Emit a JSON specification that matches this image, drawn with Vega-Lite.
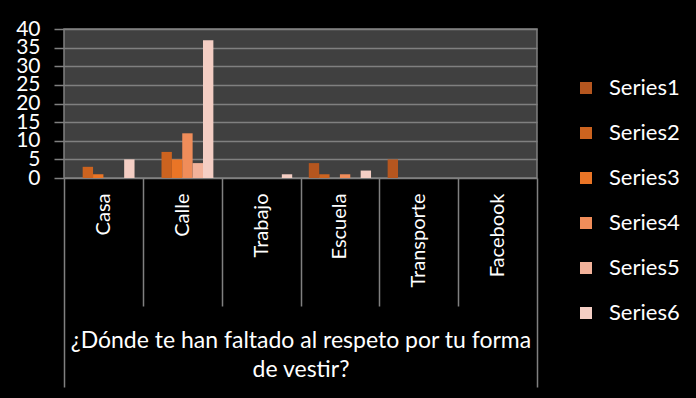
{
  "$schema": "https://vega.github.io/schema/vega-lite/v6.json",
  "background": "#000000",
  "autosize": "none",
  "width": 473,
  "height": 149,
  "padding": {"left": 64, "top": 29, "right": 159, "bottom": 220},
  "config": {"view": {"fill": "#404040", "stroke": "#808080", "strokeWidth": 1.5}},
  "data": {
    "values": [
      {"lugar": "Casa", "serie": "Series1", "valor": 0},
      {"lugar": "Casa", "serie": "Series2", "valor": 3},
      {"lugar": "Casa", "serie": "Series3", "valor": 1},
      {"lugar": "Casa", "serie": "Series4", "valor": 0},
      {"lugar": "Casa", "serie": "Series5", "valor": 0},
      {"lugar": "Casa", "serie": "Series6", "valor": 5},
      {"lugar": "Calle", "serie": "Series1", "valor": 0},
      {"lugar": "Calle", "serie": "Series2", "valor": 7},
      {"lugar": "Calle", "serie": "Series3", "valor": 5},
      {"lugar": "Calle", "serie": "Series4", "valor": 12},
      {"lugar": "Calle", "serie": "Series5", "valor": 4},
      {"lugar": "Calle", "serie": "Series6", "valor": 37},
      {"lugar": "Trabajo", "serie": "Series1", "valor": 0},
      {"lugar": "Trabajo", "serie": "Series2", "valor": 0},
      {"lugar": "Trabajo", "serie": "Series3", "valor": 0},
      {"lugar": "Trabajo", "serie": "Series4", "valor": 0},
      {"lugar": "Trabajo", "serie": "Series5", "valor": 0},
      {"lugar": "Trabajo", "serie": "Series6", "valor": 1},
      {"lugar": "Escuela", "serie": "Series1", "valor": 4},
      {"lugar": "Escuela", "serie": "Series2", "valor": 1},
      {"lugar": "Escuela", "serie": "Series3", "valor": 0},
      {"lugar": "Escuela", "serie": "Series4", "valor": 1},
      {"lugar": "Escuela", "serie": "Series5", "valor": 0},
      {"lugar": "Escuela", "serie": "Series6", "valor": 2},
      {"lugar": "Transporte", "serie": "Series1", "valor": 5},
      {"lugar": "Transporte", "serie": "Series2", "valor": 0},
      {"lugar": "Transporte", "serie": "Series3", "valor": 0},
      {"lugar": "Transporte", "serie": "Series4", "valor": 0},
      {"lugar": "Transporte", "serie": "Series5", "valor": 0},
      {"lugar": "Transporte", "serie": "Series6", "valor": 0},
      {"lugar": "Facebook", "serie": "Series1", "valor": 0},
      {"lugar": "Facebook", "serie": "Series2", "valor": 0},
      {"lugar": "Facebook", "serie": "Series3", "valor": 0},
      {"lugar": "Facebook", "serie": "Series4", "valor": 0},
      {"lugar": "Facebook", "serie": "Series5", "valor": 0},
      {"lugar": "Facebook", "serie": "Series6", "valor": 0}
    ]
  },
  "mark": {"type": "bar"},
  "encoding": {
    "x": {
      "field": "lugar",
      "type": "nominal",
      "sort": ["Casa", "Calle", "Trabajo", "Escuela", "Transporte", "Facebook"],
      "scale": {"paddingInner": 0, "paddingOuter": 0},
      "axis": {
        "title": ["¿Dónde te han faltado al respeto por tu forma", "de vestir?"],
        "tickBand": "extent",
        "tickSize": {"condition": {"test": "datum.value === 'Facebook' || datum.index < 0", "value": 209}, "value": 128},
        "tickColor": "#808080",
        "tickWidth": 1.5,
        "domain": false,
        "grid": false,
        "labelAngle": -90,
        "labelAlign": "right",
        "labelBaseline": "middle",
        "labelPadding": {"condition": {"test": "datum.value === 'Facebook'", "value": -194}, "value": -113},
        "labelFont": "Lato",
        "labelFontSize": 20,
        "labelColor": "#ffffff",
        "titleFont": "Lato",
        "titleFontSize": 23,
        "titleFontWeight": "normal",
        "titleColor": "#ffffff",
        "titleY": 151,
        "titleBaseline": "top",
        "titleLineHeight": 29
      }
    },
    "xOffset": {
      "field": "serie",
      "type": "nominal",
      "scale": {"paddingInner": 0, "paddingOuter": 0.8}
    },
    "y": {
      "field": "valor",
      "type": "quantitative",
      "scale": {"domain": [0, 40], "nice": false},
      "axis": {
        "title": null,
        "values": [0, 5, 10, 15, 20, 25, 30, 35, 40],
        "grid": true,
        "gridColor": "#808080",
        "gridWidth": 1.5,
        "domain": false,
        "tickSize": 10,
        "tickColor": "#808080",
        "tickWidth": 1.5,
        "labelFont": "Lato",
        "labelFontSize": 21,
        "labelColor": "#ffffff",
        "labelPadding": 14,
        "labelOverlap": false,
        "labelBaseline": "middle"
      }
    },
    "color": {
      "field": "serie",
      "type": "nominal",
      "scale": {"range": ["#b5561f", "#cc631f", "#ea7526", "#f08d5a", "#f2b29a", "#f4cec4"]},
      "legend": {
        "title": null,
        "orient": "none",
        "legendX": 511,
        "legendY": 48,
        "padding": 0,
        "symbolType": "square",
        "symbolSize": 144,
        "symbolStrokeWidth": 0,
        "labelFont": "Lato",
        "labelFontSize": 22,
        "labelColor": "#ffffff",
        "labelOffset": 12,
        "rowPadding": 23
      }
    }
  }
}
